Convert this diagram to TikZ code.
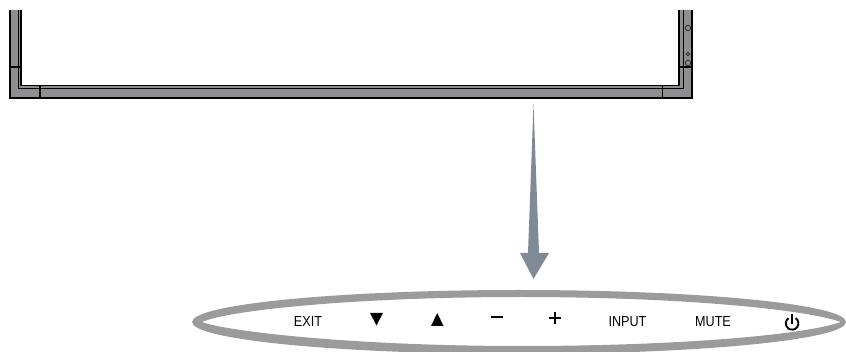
\documentclass[tikz,border=0pt]{standalone}
\usepackage{fontspec}
\setmainfont{Liberation Sans}
\definecolor{framegrey}{HTML}{8E8E90}
\definecolor{ringgrey}{HTML}{9B9B9B}
\definecolor{arrowgrey}{HTML}{808A94}
\tikzset{
    frameline/.style={black, line width=1.5pt},
    thinline/.style={black, line width=0.8pt},
    label/.style={font=\fontsize{14.5}{16}\selectfont, xscale=0.87, inner sep=0pt},
    screw/.style={circle, draw=black!80, line width=0.9pt, fill=framegrey, inner sep=0pt, minimum size=#1}
}
\begin{document}
\begin{tikzpicture}[x=1pt, y=-1pt]
    \useasboundingbox (0,0) rectangle (846,352);

    % Frame
    \fill[framegrey] (10,10) -- (21,10) -- (21,85.5) -- (679,85.5) -- (679,10) -- (692,10)
        -- (692,98) -- (10,98) -- cycle;
    \draw[frameline] (21,10) -- (21,85.5) -- (679,85.5) -- (679,10);
    \draw[frameline] (10,10) -- (10,98) -- (692,98) -- (692,10);
    \draw[thinline] (18,10) -- (18,88) -- (683,88) -- (683,10);
    \draw[frameline] (10,67) -- (21,67);
    \draw[frameline] (679,67) -- (692,67);
    \draw[frameline] (40,86) -- (40,98);
    \draw[thinline] (662,86) -- (662,98);

    % Screws
    \node[screw=5.5pt] (screwa) at (688,28) {};
    \node[screw=3.5pt] (screwb) at (688,54) {};
    \node[screw=5.5pt] (screwc) at (688,63) {};

    % Arrow
    \coordinate (arrowtop) at (533.5,104);
    \coordinate (arrowtip) at (533.5,279);
    \fill[arrowgrey] (arrowtop) -- (539,253) -- (549,253) -- (arrowtip) -- (520,253) -- (528,253) -- cycle;

    % Ring
    \fill[ringgrey, even odd rule] (519,322) ellipse [x radius=327, y radius=32]
        (202,322) .. controls (225,311) and (350,297) .. (521,297)
        .. controls (670,297) and (800,308) .. (841,322)
        .. controls (800,336) and (670,346) .. (521,346)
        .. controls (350,346) and (225,331) .. (202,322) -- cycle;

    % Buttons
    \node[label] (exit) at (308,322) {EXIT};
    \fill[black] (370,313) -- (383,313) -- (376.5,325.5) -- cycle;
    \fill[black] (431,326) -- (443.5,326) -- (437.25,313) -- cycle;
    \draw[black, line width=2pt] (491,317.5) -- (503,317.5);
    \draw[black, line width=2pt] (549,318) -- (561,318) (555,312) -- (555,324);
    \node[label] (input) at (627.5,322) {INPUT};
    \node[label] (mute) at (713,322) {MUTE};
    \draw[black, line width=1.9pt] (795.7,318.2) arc [start angle=-55, end angle=235, radius=6.3];
    \draw[black, line width=1.9pt] (792,314.5) -- (792,324);
\end{tikzpicture}
\end{document}
